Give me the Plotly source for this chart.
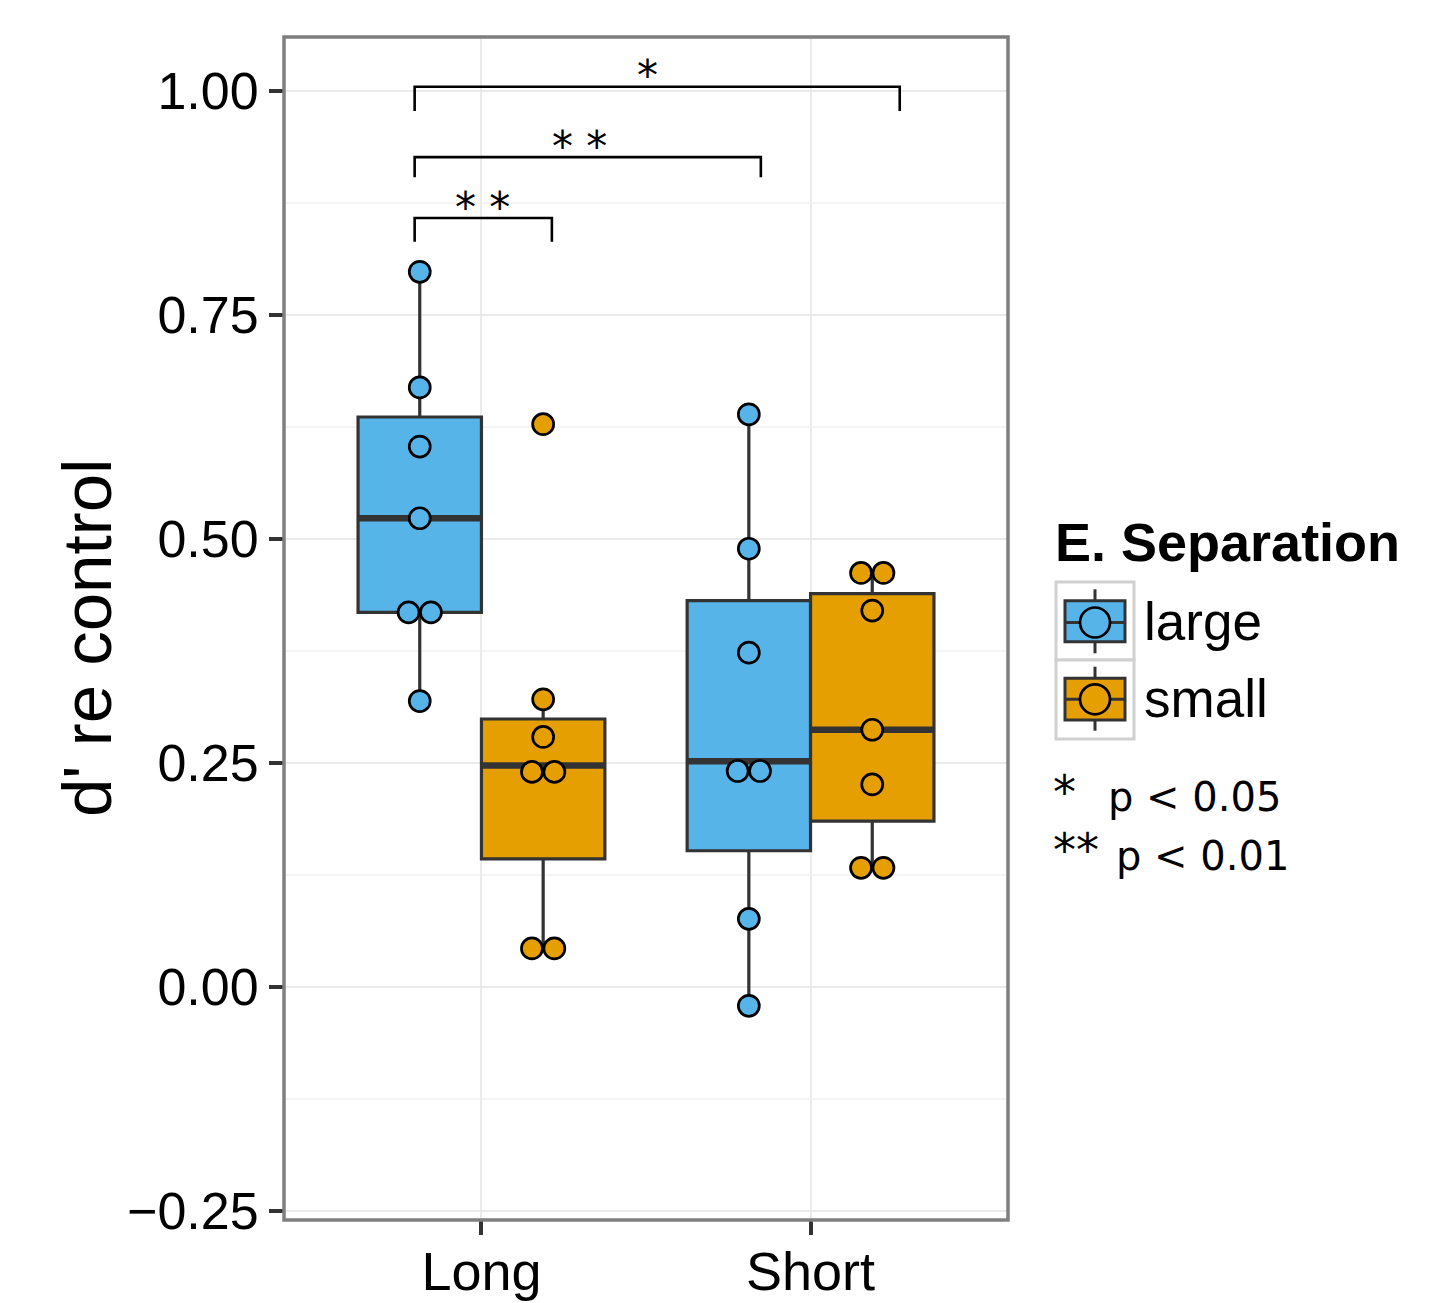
import plotly.graph_objects as go

# ---------------- data ----------------
categories = ["Long", "Short"]
groups = ["large", "small"]
fill_colors = {"large": "#56B4E9", "small": "#E69F00"}

# individual observations (dot positions)
points = {
    ("Long", "large"): [0.798, 0.669, 0.603, 0.523, 0.418, 0.418, 0.319],
    ("Long", "small"): [0.628, 0.321, 0.279, 0.240, 0.240, 0.043, 0.043],
    ("Short", "large"): [0.639, 0.489, 0.373, 0.241, 0.241, 0.076, -0.021],
    ("Short", "small"): [0.462, 0.462, 0.420, 0.287, 0.226, 0.133, 0.133],
}

# box statistics per group, ordered as categories
q1 = {"large": [0.418, 0.152], "small": [0.143, 0.185]}
median = {"large": [0.523, 0.252], "small": [0.247, 0.287]}
q3 = {"large": [0.636, 0.431], "small": [0.299, 0.439]}
lowerfence = {"large": [0.319, -0.021], "small": [0.043, 0.133]}
upperfence = {"large": [0.798, 0.639], "small": [0.321, 0.462]}

# significance brackets
bracket_x0 = [0.797, 0.797, 0.797]
bracket_x1 = [2.271, 1.849, 1.214]
bracket_top = [1.0045, 0.926, 0.858]
bracket_leg = [0.9775, 0.9035, 0.8315]
bracket_text_x = [1.505, 1.299, 1.004]
bracket_text = ["*", "*\u00a0*", "*\u00a0*"]

y_ticks = [-0.25, 0.0, 0.25, 0.50, 0.75, 1.00]
legend_note_stars = ["*", "**"]
legend_note_text = ["p < 0.05", "p < 0.01"]

# ---------------- geometry helpers ----------------
cat_pos = {c: i + 1 for i, c in enumerate(categories)}
dodge = {"large": -0.1875, "small": 0.1875}
box_w = 0.375
dot_step = 0.068

W, H = 1451, 1303
PL, PR, PT, PB = 284, 1008, 37, 1220


def px(x):
    return (x - PL) / (PR - PL)


def py(y):
    return (PB - y) / (PB - PT)


FONT = "Liberation Sans, Arial, Helvetica, sans-serif"
DFONT = "DejaVu Sans, sans-serif"
EDGE = "#333333"

fig = go.Figure()

# boxes
for g in groups:
    xs = [cat_pos[c] + dodge[g] for c in categories]
    fig.add_trace(go.Box(
        x=xs, q1=q1[g], median=median[g], q3=q3[g],
        lowerfence=lowerfence[g], upperfence=upperfence[g],
        width=box_w, whiskerwidth=0, fillcolor=fill_colors[g],
        line=dict(color=EDGE, width=3.2), boxpoints=False,
        showlegend=False, hoverinfo="skip", name=g))

# thicker median lines
for g in groups:
    mx, my = [], []
    for i, c in enumerate(categories):
        xc = cat_pos[c] + dodge[g]
        mx += [xc - box_w / 2, xc + box_w / 2, None]
        my += [median[g][i], median[g][i], None]
    fig.add_trace(go.Scatter(x=mx, y=my, mode="lines",
                             line=dict(color=EDGE, width=6.5),
                             showlegend=False, hoverinfo="skip"))

# dots (duplicates stacked side by side as in a dot plot)
for g in groups:
    xs, ys = [], []
    for c in categories:
        vals = points[(c, g)]
        xc = cat_pos[c] + dodge[g]
        counts = {}
        for v in vals:
            counts[v] = counts.get(v, 0) + 1
        seen = {}
        for v in vals:
            k = counts[v]
            j = seen.get(v, 0)
            seen[v] = j + 1
            xs.append(xc + (j - (k - 1) / 2) * dot_step)
            ys.append(v)
    fig.add_trace(go.Scatter(
        x=xs, y=ys, mode="markers",
        marker=dict(size=21, color=fill_colors[g],
                    line=dict(color="black", width=2.7)),
        showlegend=False, hoverinfo="skip"))

# brackets
for i in range(len(bracket_x0)):
    fig.add_trace(go.Scatter(
        x=[bracket_x0[i], bracket_x0[i], bracket_x1[i], bracket_x1[i]],
        y=[bracket_leg[i], bracket_top[i], bracket_top[i], bracket_leg[i]],
        mode="lines", line=dict(color="black", width=2.6),
        showlegend=False, hoverinfo="skip", cliponaxis=False))
    fig.add_annotation(x=bracket_text_x[i], y=bracket_top[i], xref="x", yref="y",
                       text=bracket_text[i], showarrow=False,
                       xanchor="center", yanchor="middle", yshift=11,
                       font=dict(family=DFONT, size=42, color="black"))

shapes = []
# panel border
shapes.append(dict(type="rect", xref="paper", yref="paper", x0=0, x1=1, y0=0, y1=1,
                   line=dict(color="#7f7f7f", width=3.5), layer="above"))

# custom legend
key_rows = [(582, 660, 589.3, 653.3, 600.7, 641.7, 622.5),
            (660, 739, 666.7, 730.7, 678.3, 720.0, 699.3)]
for g, (k0, k1, w0, w1, b0, b1, mid) in zip(groups, key_rows):
    shapes.append(dict(type="rect", xref="paper", yref="paper",
                       x0=px(1056), x1=px(1134), y0=py(k1), y1=py(k0),
                       line=dict(color="#d0d0d0", width=3), fillcolor="white"))
    shapes.append(dict(type="line", xref="paper", yref="paper",
                       x0=px(1095), x1=px(1095), y0=py(w1), y1=py(w0),
                       line=dict(color=EDGE, width=3)))
    shapes.append(dict(type="rect", xref="paper", yref="paper",
                       x0=px(1065), x1=px(1125), y0=py(b1), y1=py(b0),
                       line=dict(color=EDGE, width=3), fillcolor=fill_colors[g]))
    shapes.append(dict(type="line", xref="paper", yref="paper",
                       x0=px(1065), x1=px(1125), y0=py(mid), y1=py(mid),
                       line=dict(color=EDGE, width=3)))
    shapes.append(dict(type="circle", xref="paper", yref="paper",
                       x0=px(1095 - 15), x1=px(1095 + 15), y0=py(mid + 15), y1=py(mid - 15),
                       line=dict(color="black", width=2.7), fillcolor=fill_colors[g]))
    fig.add_annotation(x=px(1142), y=py(mid - 1), xref="paper", yref="paper",
                       text=g, showarrow=False, xanchor="left", yanchor="middle",
                       font=dict(family=FONT, size=53, color="black"))

fig.add_annotation(x=px(1053), y=py(542), xref="paper", yref="paper",
                   text="<b>E. Separation</b>", showarrow=False,
                   xanchor="left", yanchor="middle",
                   font=dict(family=FONT, size=54, color="black"))
for stars, note, yy, xp in zip(legend_note_stars, legend_note_text,
                               [797.5, 855.8], [1106, 1114]):
    fig.add_annotation(x=px(1051), y=py(yy - 6), xref="paper", yref="paper",
                       text=stars, showarrow=False, xanchor="left", yanchor="middle",
                       font=dict(family=DFONT, size=46, color="black"))
    fig.add_annotation(x=px(xp), y=py(yy), xref="paper", yref="paper",
                       text=note, showarrow=False, xanchor="left", yanchor="middle",
                       font=dict(family=DFONT, size=40, color="black"))

# y axis title
fig.add_annotation(x=px(87), y=py(638), xref="paper", yref="paper",
                   text="d' re control", textangle=-90, showarrow=False,
                   xanchor="center", yanchor="middle",
                   font=dict(family=FONT, size=69, color="black"))

fig.update_layout(
    width=W, height=H,
    margin=dict(l=PL, r=W - PR, t=PT, b=H - PB, pad=0, autoexpand=False),
    plot_bgcolor="white", paper_bgcolor="white",
    boxmode="overlay", showlegend=False, shapes=shapes,
    xaxis=dict(range=[0.4, 2.6], tickvals=[cat_pos[c] for c in categories],
               ticktext=categories, showgrid=True, gridcolor="#ebebeb", gridwidth=1.7,
               zeroline=False, showline=False, ticks="outside", ticklen=14,
               tickwidth=3.5, tickcolor=EDGE, automargin=False,
               ticklabelstandoff=-10,
               tickfont=dict(family=FONT, size=54, color="black")),
    yaxis=dict(range=[-0.26, 1.06], tickvals=y_ticks, tickformat=".2f",
               showgrid=True, gridcolor="#ebebeb", gridwidth=1.7,
               zeroline=False, showline=False, ticks="outside", ticklen=14,
               tickwidth=3.5, tickcolor=EDGE, automargin=False,
               tickfont=dict(family=FONT, size=52, color="black"),
               minor=dict(dtick=0.125, tick0=0.125, showgrid=True,
                          gridcolor="#f4f4f4", gridwidth=1.5, ticks="")),
)

fig.write_html("out.html", config={"displayModeBar": False},
               post_script="document.body.style.margin='0';document.body.style.overflow='hidden';")
